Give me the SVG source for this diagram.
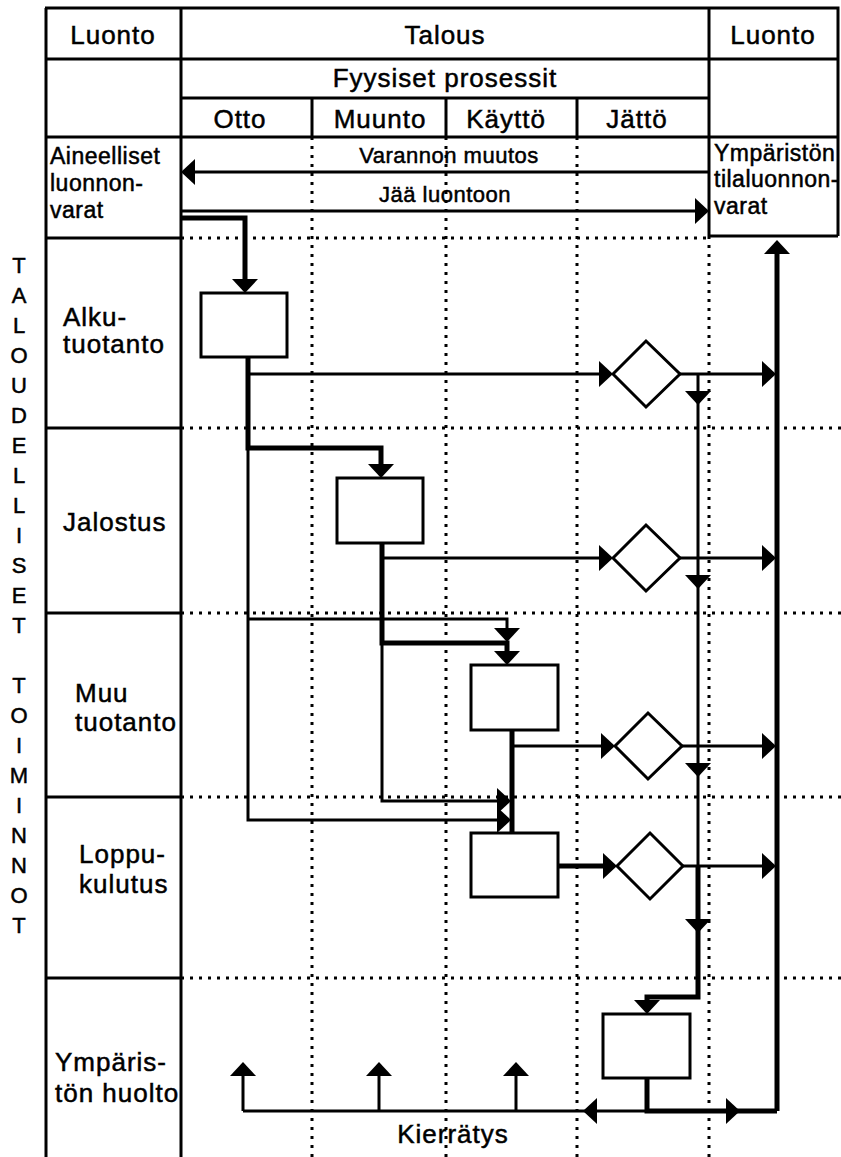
<svg xmlns="http://www.w3.org/2000/svg" width="841" height="1157" viewBox="0 0 841 1157">
<defs>
<style>
.frame{stroke:#000;stroke-width:3;fill:none}
.dot{stroke:#000;stroke-width:3;stroke-dasharray:3 6;fill:none}
.thick{stroke:#000;stroke-width:5;fill:none}
.thin{stroke:#000;stroke-width:3;fill:none}
.box{fill:#fff;stroke:#000;stroke-width:3}
text{font-family:"Liberation Sans",Arial,sans-serif;fill:#000;stroke:#000;stroke-width:0.5px}
.h{font-size:26px;letter-spacing:1px;text-anchor:middle}
.lab{font-size:26px;letter-spacing:1px}
.sm{font-size:23px;letter-spacing:0.5px}
.smc{font-size:22px;letter-spacing:0.5px;text-anchor:middle}
.v{font-size:22px;text-anchor:middle}
</style>
<path id="ah" d="M-14,-13 L0,0 L-14,13 Z" fill="#000"/>
</defs>
<rect width="841" height="1157" fill="#fff"/>
<g id="grid">
<path class="dot" d="M312,137 V1157 M446,137 V1157 M577,137 V1157 M709,236 V1157"/>
<path class="dot" d="M181,238 H709 M181,428 H841 M181,613 H841 M181,797 H841 M181,978 H841"/>
</g>
<g id="frame">
<path class="frame" d="M45,8 H838 V236 M46,8 V1157 M181,8 V1157 M709,8 V236 M46,59 H838 M181,98 H709 M46,137 H838 M46,238 H181 M709,236 H838 M46,428 H181 M46,613 H181 M46,797 H181 M46,978 H181 M312,98 V137 M446,98 V137 M577,98 V137"/>
</g>
<g id="headers">
<text class="h" x="113" y="44">Luonto</text>
<text class="h" x="445" y="44">Talous</text>
<text class="h" x="773" y="44">Luonto</text>
<text class="h" x="445" y="87">Fyysiset prosessit</text>
<text class="h" x="240" y="128">Otto</text>
<text class="h" x="380" y="128">Muunto</text>
<text class="h" x="506" y="128">Käyttö</text>
<text class="h" x="637" y="128">Jättö</text>
</g>
<g id="node-aineelliset">
<text class="sm" x="50" y="164">Aineelliset</text>
<text class="sm" x="50" y="191">luonnon-</text>
<text class="sm" x="50" y="218">varat</text>
</g>
<g id="node-ymparisto-varat">
<text class="sm" x="714" y="161">Ympäristön</text>
<text class="sm" x="714" y="187">tilaluonnon-</text>
<text class="sm" x="714" y="214">varat</text>
</g>
<g id="side-title">
<text class="v" x="19" y="273">T</text>
<text class="v" x="19" y="303">A</text>
<text class="v" x="19" y="333">L</text>
<text class="v" x="19" y="363">O</text>
<text class="v" x="19" y="393">U</text>
<text class="v" x="19" y="423">D</text>
<text class="v" x="19" y="453">E</text>
<text class="v" x="19" y="483">L</text>
<text class="v" x="19" y="513">L</text>
<text class="v" x="19" y="543">I</text>
<text class="v" x="19" y="573">S</text>
<text class="v" x="19" y="603">E</text>
<text class="v" x="19" y="633">T</text>
<text class="v" x="19" y="693">T</text>
<text class="v" x="19" y="723">O</text>
<text class="v" x="19" y="753">I</text>
<text class="v" x="19" y="783">M</text>
<text class="v" x="19" y="813">I</text>
<text class="v" x="19" y="843">N</text>
<text class="v" x="19" y="873">N</text>
<text class="v" x="19" y="903">O</text>
<text class="v" x="19" y="933">T</text>
</g>
<g id="row-labels">
<text class="lab" x="63" y="326">Alku-</text>
<text class="lab" x="63" y="353">tuotanto</text>
<text class="lab" x="63" y="531">Jalostus</text>
<text class="lab" x="75" y="702">Muu</text>
<text class="lab" x="75" y="731">tuotanto</text>
<text class="lab" x="79" y="863">Loppu-</text>
<text class="lab" x="79" y="893">kulutus</text>
<text class="lab" x="55" y="1071">Ympäris-</text>
<text class="lab" x="55" y="1102">tön huolto</text>
</g>
<g id="connectors">
<text class="smc" x="449" y="163">Varannon muutos</text>
<text class="smc" x="445" y="202">Jää luontoon</text>
<path class="thick" d="M181,218 H245 V283 M248,357 V448 H381 V468 M382,543 V643 H507 V655 M512,730 V833 M558,866 H606 M698,866 V997 H647 V1004 M777,1111 V250 M647,1078 V1111 H777"/>
<path class="thin" d="M709,172 H190 M181,211 H699 M248,374 H603 M680,374 H767 M382,558 H603 M680,558 H767 M512,746 H605 M682,746 H767 M683,866 H767 M698,374 V866 M248,448 V820 H502 M248,619 H507 V632 M382,643 V801 H502 M647,1111 H243 M243,1111 V1072 M379,1111 V1072 M516,1111 V1072"/>
<use href="#ah" transform="translate(181,172) rotate(180)"/>
<use href="#ah" transform="translate(709,211)"/>
<use href="#ah" transform="translate(245,293) rotate(90)"/>
<use href="#ah" transform="translate(381,478) rotate(90)"/>
<use href="#ah" transform="translate(507,665) rotate(90)"/>
<use href="#ah" transform="translate(507,642) rotate(90)"/>
<use href="#ah" transform="translate(511,801)"/>
<use href="#ah" transform="translate(511,820)"/>
<use href="#ah" transform="translate(613,374)"/>
<use href="#ah" transform="translate(613,558)"/>
<use href="#ah" transform="translate(615,746)"/>
<use href="#ah" transform="translate(617,866)"/>
<use href="#ah" transform="translate(776,374)"/>
<use href="#ah" transform="translate(776,558)"/>
<use href="#ah" transform="translate(776,746)"/>
<use href="#ah" transform="translate(776,866)"/>
<use href="#ah" transform="translate(698,405) rotate(90)"/>
<use href="#ah" transform="translate(698,589) rotate(90)"/>
<use href="#ah" transform="translate(698,777) rotate(90)"/>
<use href="#ah" transform="translate(698,933) rotate(90)"/>
<use href="#ah" transform="translate(647,1014) rotate(90)"/>
<use href="#ah" transform="translate(777,240) rotate(-90)"/>
<use href="#ah" transform="translate(740,1111)"/>
<use href="#ah" transform="translate(583,1111) rotate(180)"/>
<use href="#ah" transform="translate(243,1062) rotate(-90)"/>
<use href="#ah" transform="translate(379,1062) rotate(-90)"/>
<use href="#ah" transform="translate(516,1062) rotate(-90)"/>
<text class="h" x="453" y="1143">Kierrätys</text>
</g>
<g id="node-alkutuotanto"><rect class="box" x="201" y="293" width="86" height="64"/></g>
<g id="node-jalostus"><rect class="box" x="337" y="478" width="86" height="65"/></g>
<g id="node-muu"><rect class="box" x="471" y="665" width="87" height="65"/></g>
<g id="node-loppukulutus"><rect class="box" x="471" y="833" width="87" height="64"/></g>
<g id="node-huolto"><rect class="box" x="603" y="1014" width="87" height="64"/></g>
<g id="node-d1"><polygon class="box" points="613,374 646,341 680,374 646,407"/></g>
<g id="node-d2"><polygon class="box" points="613,558 646,525 680,558 646,591"/></g>
<g id="node-d3"><polygon class="box" points="615,746 648,713 682,746 648,779"/></g>
<g id="node-d4"><polygon class="box" points="617,866 650,833 683,866 650,899"/></g>
</svg>
